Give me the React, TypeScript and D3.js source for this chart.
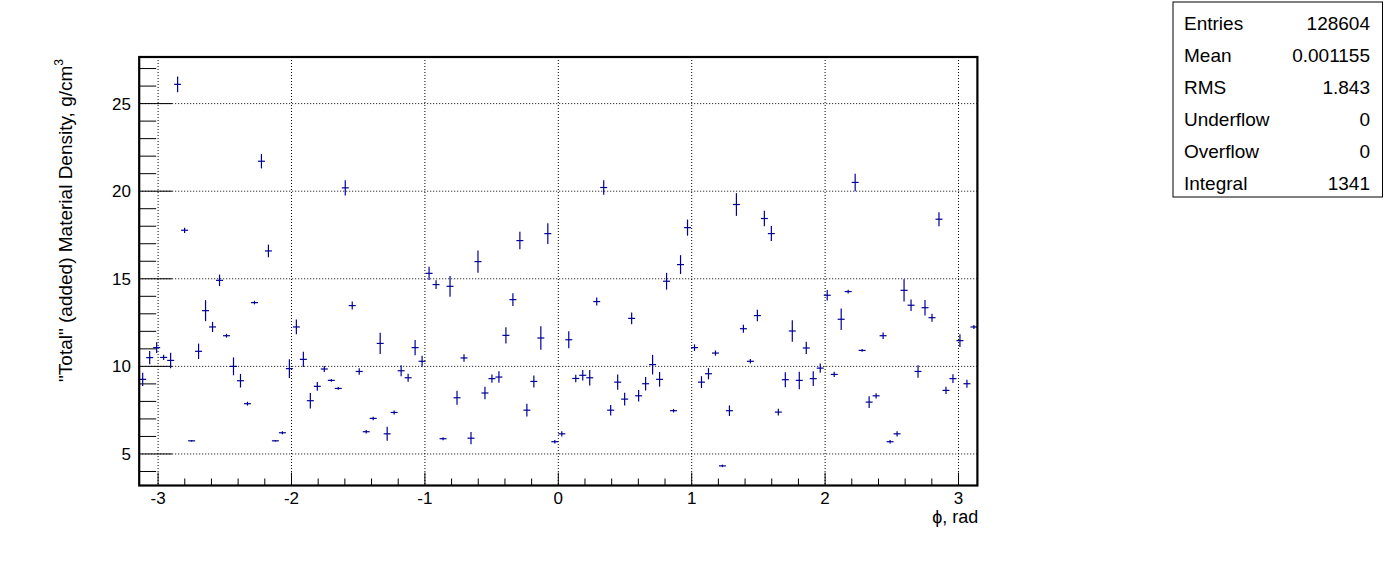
import React from "react";
import * as d3 from "d3";

const NBINS = 120;
const values = [
  9.26, 10.5, 11.07, 10.51, 10.34, 26.1, 17.77, 5.75, 10.86, 13.18, 12.25, 14.91, 11.75, 10.0, 9.18, 7.87, 13.64, 21.71, 16.59, 5.75,
  6.21, 9.87, 12.25, 10.4, 8.04, 8.86, 9.85, 9.2, 8.74, 20.19, 13.47, 9.71, 6.27, 7.03, 11.31, 6.15, 7.37, 9.75, 9.35, 11.07,
  10.29, 15.31, 14.67, 5.87, 14.57, 8.21, 10.48, 5.9, 15.98, 8.48, 9.3, 9.39, 11.77, 13.81, 17.18, 7.5, 9.14, 11.62, 17.58, 5.7,
  6.15, 11.52, 9.31, 9.49, 9.35, 13.7, 20.21, 7.5, 9.1, 8.13, 12.74, 8.32, 9.01, 10.1, 9.26, 14.86, 7.47, 15.81, 17.92, 11.07,
  9.1, 9.58, 10.76, 4.32, 7.47, 19.24, 12.15, 10.29, 12.9, 18.44, 17.58, 7.39, 9.24, 12.02, 9.2, 11.05, 9.3, 9.9, 14.06, 9.54,
  12.69, 14.27, 20.5, 10.91, 7.96, 8.32, 11.75, 5.7, 6.15, 14.34, 13.49, 9.71, 13.35, 12.78, 18.4, 8.63, 9.3, 11.47, 9.01, 12.25,
];
const errors = [
  0.38, 0.38, 0.3, 0.15, 0.44, 0.45, 0.15, 0.04, 0.44, 0.6, 0.29, 0.33, 0.11, 0.51, 0.39, 0.11, 0.1, 0.41, 0.36, 0.04,
  0.08, 0.53, 0.42, 0.44, 0.44, 0.25, 0.17, 0.08, 0.08, 0.44, 0.23, 0.19, 0.1, 0.1, 0.61, 0.4, 0.11, 0.31, 0.23, 0.44,
  0.31, 0.38, 0.25, 0.08, 0.59, 0.4, 0.21, 0.35, 0.63, 0.36, 0.23, 0.33, 0.46, 0.36, 0.5, 0.36, 0.34, 0.67, 0.59, 0.1,
  0.15, 0.48, 0.21, 0.3, 0.44, 0.23, 0.41, 0.3, 0.43, 0.36, 0.33, 0.33, 0.39, 0.56, 0.42, 0.48, 0.1, 0.54, 0.46, 0.19,
  0.34, 0.32, 0.15, 0.07, 0.3, 0.65, 0.23, 0.13, 0.33, 0.44, 0.43, 0.19, 0.43, 0.62, 0.5, 0.35, 0.42, 0.27, 0.3, 0.15,
  0.61, 0.11, 0.5, 0.08, 0.34, 0.15, 0.19, 0.1, 0.15, 0.63, 0.33, 0.36, 0.44, 0.23, 0.4, 0.21, 0.25, 0.36, 0.23, 0.11,
];
const xMajorTicks = [-3, -2, -1, 0, 1, 2, 3];
const yMajorTicks = [5, 10, 15, 20, 25];
const statLabels = ["Entries", "Mean", "RMS", "Underflow", "Overflow", "Integral"];
const statValues = ["128604", "0.001155", "1.843", "0", "0", "1341"];

const FONT = "'Liberation Sans', Arial, Helvetica, sans-serif";
const COLOR = "#000099";

export default function App() {
  const L = 139.2, R = 977.4, T = 57, B = 485.5;
  const x = d3.scaleLinear().domain([-Math.PI, Math.PI]).range([L, R]);
  const y = d3.scaleLinear().domain([3.2, 27.66]).range([B, T]);
  const bw = (2 * Math.PI) / NBINS;
  const xMinor = d3.range(-3.0, 3.01, 0.2).filter((v) => Math.abs(v - Math.round(v)) > 0.01);
  const yMinor = d3.range(4, 28, 1).filter((v) => v % 5 !== 0 && y(v) > T);

  return (
    <svg width={1396} height={572} style={{ position: "absolute", left: 0, top: 0, background: "#fff" }} fontFamily={FONT}>
      <rect x={0} y={0} width={1396} height={572} fill="#fff" />
      {xMajorTicks.map((t) => (
        <line key={"gx" + t} x1={x(t)} x2={x(t)} y1={T} y2={B} stroke="#000" strokeWidth={1} strokeDasharray="1,2" />
      ))}
      {yMajorTicks.map((t) => (
        <line key={"gy" + t} x1={L} x2={R} y1={y(t)} y2={y(t)} stroke="#000" strokeWidth={1} strokeDasharray="1,2" />
      ))}
      {xMajorTicks.map((t) => (
        <line key={"tx" + t} x1={x(t)} x2={x(t)} y1={B} y2={B - 13} stroke="#000" strokeWidth={1} />
      ))}
      {xMinor.map((t, i) => (
        <line key={"mx" + i} x1={x(t)} x2={x(t)} y1={B} y2={B - 7} stroke="#000" strokeWidth={1} />
      ))}
      {yMajorTicks.map((t) => (
        <line key={"ty" + t} x1={L} x2={L + 33} y1={y(t)} y2={y(t)} stroke="#000" strokeWidth={1} />
      ))}
      {yMinor.map((t) => (
        <line key={"my" + t} x1={L} x2={L + 17} y1={y(t)} y2={y(t)} stroke="#000" strokeWidth={1} />
      ))}
      {values.map((v, i) => {
        const c = -Math.PI + bw * (i + 0.5);
        const e = errors[i];
        return (
          <g key={"p" + i} stroke={COLOR} strokeWidth={1.2}>
            <line x1={x(c - bw / 2)} x2={x(c + bw / 2)} y1={y(v)} y2={y(v)} />
            <line x1={x(c)} x2={x(c)} y1={y(v - e)} y2={y(v + e)} />
          </g>
        );
      })}
      <rect x={L} y={T} width={R - L} height={B - T} fill="none" stroke="#000" strokeWidth={2.2} />
      {xMajorTicks.map((t) => (
        <text key={"lx" + t} x={x(t)} y={504} textAnchor="middle" fontSize={17}>
          {t < 0 ? "-" + Math.abs(t) : String(t)}
        </text>
      ))}
      {yMajorTicks.map((t) => (
        <text key={"ly" + t} x={131} y={y(t)} dy="0.35em" textAnchor="end" fontSize={17}>
          {t}
        </text>
      ))}
      <text x={R + 1} y={523} textAnchor="end" fontSize={18}>
        ϕ, rad
      </text>
      <text transform={`translate(72, ${T + 2}) rotate(-90)`} textAnchor="end" fontSize={19}>
        "Total" (added) Material Density, g/cm<tspan dy={-9} fontSize={12}>3</tspan>
      </text>
      <rect x={1173} y={2} width={209.5} height={195} fill="#fff" stroke="#000" strokeWidth={1} />
      {statLabels.map((s, i) => (
        <g key={"st" + i} fontSize={19}>
          <text x={1184} y={23 + i * 32} dy="0.35em">{s}</text>
          <text x={1370} y={23 + i * 32} dy="0.35em" textAnchor="end">{statValues[i]}</text>
        </g>
      ))}
    </svg>
  );
}
